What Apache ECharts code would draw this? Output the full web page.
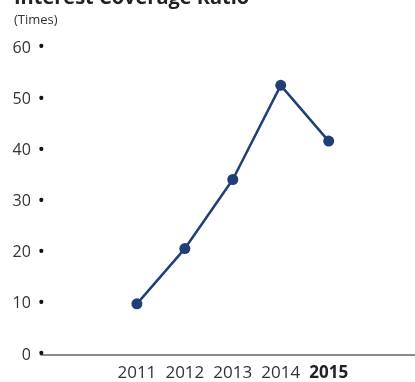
<!DOCTYPE html>
<html>
<head>
<meta charset="utf-8">
<script src="https://cdn.jsdelivr.net/npm/echarts@6/dist/echarts.min.js"></script>
<style>
  html, body { margin: 0; padding: 0; background: #fff; }
  #chart { width: 415px; height: 382px; }
</style>
</head>
<body>
<div id="chart"></div>
<script>
const years = [2011, 2012, 2013, 2014, 2015];
const ratio = [10, 20.8, 34.3, 52.7, 41.8];
const yTicks = [0, 10, 20, 30, 40, 50, 60];

const chart = echarts.init(document.getElementById('chart'));

const option = {
  animation: false,
  textStyle: { fontFamily: 'Open Sans' },
  title: [
    {
      text: 'Interest Coverage Ratio',
      left: 9,
      top: -17,
      textStyle: { fontSize: 20, fontWeight: 'bold', color: '#222' },
    },
    {
      text: '(Times)',
      left: 9,
      top: 9,
      textStyle: { fontSize: 13, fontWeight: 'normal', color: '#333' },
    },
  ],
  grid: {
    left: 41,
    right: 0,
    top: 48,
    bottom: 26,
    containLabel: false,
  },
  xAxis: {
    type: 'value',
    min: 2009,
    max: 2016.8,
    interval: 1,
    splitLine: { show: false },
    axisTick: { show: false },
    axisLine: { lineStyle: { color: '#666', width: 1.5 } },
    axisLabel: {
      margin: 10,
      fontSize: 17,
      color: '#333',
      showMinLabel: true,
      showMaxLabel: false,
      formatter: v => {
        if (years.indexOf(v) < 0) return '';
        return v === years[years.length - 1] ? '{b|' + v + '}' : String(v);
      },
      rich: { b: { fontSize: 17, fontWeight: 'bold', color: '#222' } },
    },
  },
  yAxis: {
    type: 'value',
    min: yTicks[0],
    max: yTicks[yTicks.length - 1],
    interval: 10,
    splitLine: { show: false },
    axisLine: { show: false },
    axisTick: { show: false },
    axisLabel: {
      margin: -4,
      color: '#333',
      formatter: v => '{n|' + v + '}{d|•}',
      rich: {
        n: { fontSize: 16, color: '#333', lineHeight: 20, verticalAlign: 'middle' },
        d: { fontSize: 19, color: '#111', lineHeight: 20, verticalAlign: 'middle', padding: [0, 0, 0, 7] },
      },
    },
  },
  series: [
    {
      type: 'line',
      data: years.map((y, i) => [y, ratio[i]]),
      color: '#203f7a',
      lineStyle: { width: 2.5 },
      symbol: 'circle',
      symbolSize: 11,
      itemStyle: { color: '#203f7a' },
    },
  ],
};

chart.setOption(option);
</script>
</body>
</html>
